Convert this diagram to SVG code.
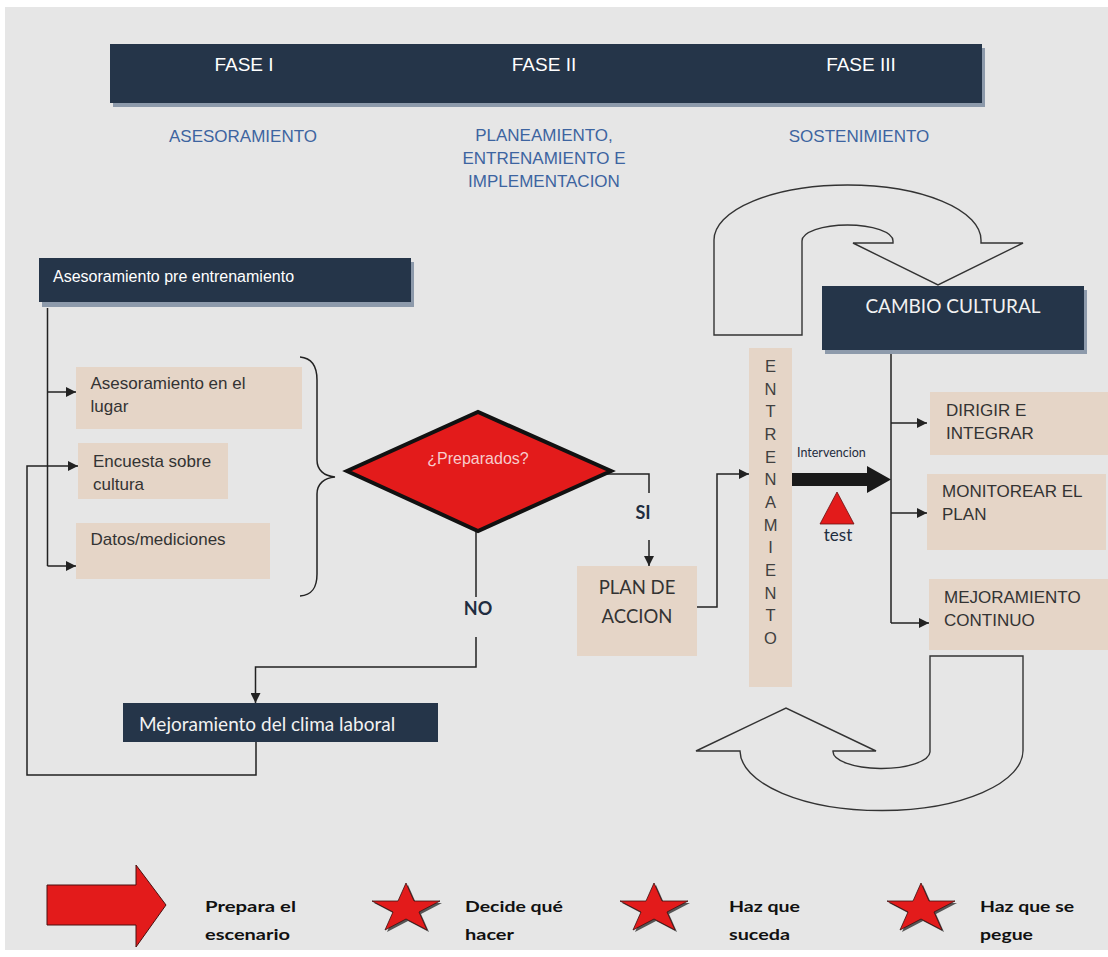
<svg xmlns="http://www.w3.org/2000/svg" width="1108" height="957" viewBox="0 0 1108 957">
  <defs>
    <style>
      .dark { fill: #253549; }
      .shadow { fill: #8d9aab; }
      .beige { fill: #e5d5c7; }
      .wire { fill: none; stroke: #222; stroke-width: 1.5; }
      .uturn { fill: none; stroke: #333; stroke-width: 1.4; stroke-linejoin: miter; }
      .phase { font-family: "Liberation Sans", Arial, sans-serif; font-size: 19px; fill: #ffffff; text-anchor: middle; }
      .sub { font-family: "Liberation Sans", Arial, sans-serif; font-size: 17px; fill: #3d64a0; text-anchor: middle; }
      .body { font-family: "Liberation Sans", Arial, sans-serif; font-size: 17px; fill: #333333; }
      .cal { font-family: Lato, "Open Sans", sans-serif; }
      .lbl { font-family: Lato, "Open Sans", sans-serif; font-weight: bold; font-size: 18px; fill: #1f2d40; text-anchor: middle; }
      .legend { font-family: Lato, "Open Sans", sans-serif; font-weight: bold; font-size: 16px; fill: #111; }
      .letters { font-family: "Liberation Sans", Arial, sans-serif; font-size: 16.5px; fill: #404040; text-anchor: middle; }
    </style>
    <marker id="ah" viewBox="0 0 10 10" refX="10" refY="5" markerWidth="11" markerHeight="10" orient="auto" markerUnits="userSpaceOnUse">
      <path d="M0,0 L10,5 L0,10 z" fill="#222"/>
    </marker>
    <polygon id="star" points="0,-26 8,-8 34,-8 13,3 21,21 0,10 -21,21 -13,3 -34,-8 -8,-8"/>
  </defs>

  <!-- page background -->
  <rect x="5" y="7" width="1103" height="943" fill="#e6e6e6"/>

  <!-- phase header band -->
  <g id="phase-band">
    <rect class="shadow" x="113" y="48" width="872" height="59"/>
    <rect class="dark" x="110" y="44" width="872" height="59"/>
    <text class="phase" x="244" y="71">FASE I</text>
    <text class="phase" x="544" y="71">FASE II</text>
    <text class="phase" x="861" y="71">FASE III</text>
  </g>

  <g id="phase-titles">
    <text class="sub" x="243" y="142">ASESORAMIENTO</text>
    <text class="sub" x="544" y="141">PLANEAMIENTO,</text>
    <text class="sub" x="544" y="164">ENTRENAMIENTO E</text>
    <text class="sub" x="544" y="187">IMPLEMENTACION</text>
    <text class="sub" x="859" y="142">SOSTENIMIENTO</text>
  </g>

  <!-- connectors -->
  <g id="connectors">
    <path class="wire" d="M47.5,308 V566"/>
    <path class="wire" d="M47.5,392 H76" marker-end="url(#ah)"/>
    <path class="wire" d="M47.5,566 H76" marker-end="url(#ah)"/>
    <path class="wire" d="M256,742 V775 H27 V466 H78" marker-end="url(#ah)"/>
    <path class="wire" d="M607,474 H649 V493"/>
    <path class="wire" d="M649,540 V566" marker-end="url(#ah)"/>
    <path class="wire" d="M476,531 V597"/>
    <path class="wire" d="M476,637 V667 H255.5 V703" marker-end="url(#ah)"/>
    <path class="wire" d="M697,607 H717 V474 H749" marker-end="url(#ah)"/>
    <path class="wire" d="M891,350 V623"/>
    <path class="wire" d="M891,423 H927" marker-end="url(#ah)"/>
    <path class="wire" d="M891,513 H927" marker-end="url(#ah)"/>
    <path class="wire" d="M891,623 H929" marker-end="url(#ah)"/>
    <!-- bracket gathering the three assessment items -->
    <path class="wire" d="M300,357 C312,358 317,366 317,380 L317,460 C317,470 324,476 335,477 C324,478 317,484 317,494 L317,574 C317,588 312,595 300,596"/>
    <!-- intervention block arrow -->
    <polygon points="791,473 867,473 867,466 891,479.5 867,493 867,486 791,486" fill="#1a1a1a"/>
  </g>

  <g id="pre-assessment">
    <rect class="shadow" x="42" y="262" width="372" height="45"/>
    <rect class="dark" x="39" y="258" width="372" height="44"/>
    <text x="53" y="282" font-family="Liberation Sans, Arial, sans-serif" font-size="16" fill="#ffffff">Asesoramiento pre entrenamiento</text>
  </g>

  <g id="onsite">
    <rect class="beige" x="76" y="367" width="226" height="62"/>
    <text class="body" x="90.5" y="389">Asesoramiento en el</text>
    <text class="body" x="90.5" y="412">lugar</text>
  </g>

  <g id="survey">
    <rect class="beige" x="78" y="443" width="150" height="56"/>
    <text class="body" x="93" y="467">Encuesta sobre</text>
    <text class="body" x="93" y="490">cultura</text>
  </g>

  <g id="data">
    <rect class="beige" x="76" y="523" width="194" height="56"/>
    <text class="body" x="90.5" y="545">Datos/mediciones</text>
  </g>

  <g id="ready">
    <polygon points="347,471 478,412 611,471 478,531" fill="#e31b1b" stroke="#111" stroke-width="4" stroke-linejoin="miter"/>
    <text x="478" y="464" text-anchor="middle" font-family="Liberation Sans, Arial, sans-serif" font-size="16" fill="#f7cccc">¿Preparados?</text>
  </g>

  <g id="yes-label"><text class="lbl" x="643" y="519">SI</text></g>
  <g id="no-label"><text class="lbl" x="478" y="615">NO</text></g>

  <g id="action-plan">
    <rect class="beige" x="577" y="566" width="120" height="90"/>
    <text class="cal" x="637" y="594" font-size="18.5" fill="#333" text-anchor="middle">PLAN DE</text>
    <text class="cal" x="637" y="623" font-size="18.5" fill="#333" text-anchor="middle">ACCION</text>
  </g>

  <g id="climate">
    <rect class="dark" x="123" y="703" width="315" height="39"/>
    <text class="cal" x="139" y="731" font-size="19" fill="#f2f2f2">Mejoramiento del clima laboral</text>
  </g>

  <g id="training">
    <rect class="beige" x="749" y="348" width="43" height="339"/>
    <text class="letters" x="770.5" y="372">E</text>
    <text class="letters" x="770.5" y="394.7">N</text>
    <text class="letters" x="770.5" y="417.3">T</text>
    <text class="letters" x="770.5" y="440">R</text>
    <text class="letters" x="770.5" y="462.7">E</text>
    <text class="letters" x="770.5" y="485.3">N</text>
    <text class="letters" x="770.5" y="508">A</text>
    <text class="letters" x="770.5" y="530.7">M</text>
    <text class="letters" x="770.5" y="553.3">I</text>
    <text class="letters" x="770.5" y="576">E</text>
    <text class="letters" x="770.5" y="598.7">N</text>
    <text class="letters" x="770.5" y="621.3">T</text>
    <text class="letters" x="770.5" y="644">O</text>
  </g>

  <g id="intervention-label">
    <text class="cal" x="797" y="457" font-size="12.5" fill="#1f2d40">Intervencion</text>
  </g>

  <g id="test">
    <polygon points="837,492 854,524 820,524" fill="#e31b1b" stroke="#6a1010" stroke-width="0.8"/>
    <text class="cal" x="838" y="541" font-size="17" fill="#1f2d40" text-anchor="middle">test</text>
  </g>

  <g id="culture-change">
    <rect class="shadow" x="825" y="290" width="262" height="64"/>
    <rect class="dark" x="822" y="286" width="262" height="64"/>
    <text class="cal" x="953" y="313" font-size="19" fill="#f2f2f2" text-anchor="middle">CAMBIO CULTURAL</text>
  </g>

  <g id="lead">
    <rect class="beige" x="930" y="392" width="178" height="63"/>
    <text class="body" x="946" y="416">DIRIGIR E</text>
    <text class="body" x="946" y="439">INTEGRAR</text>
  </g>

  <g id="monitor">
    <rect class="beige" x="927" y="474" width="179" height="76"/>
    <text class="body" x="942" y="497">MONITOREAR EL</text>
    <text class="body" x="942" y="520">PLAN</text>
  </g>

  <g id="improve">
    <rect class="beige" x="929" y="579" width="179" height="71"/>
    <text class="body" x="944" y="603">MEJORAMIENTO</text>
    <text class="body" x="944" y="626">CONTINUO</text>
  </g>

  <!-- recycling u-turn arrows around the sustain phase -->
  <g id="uturn-top">
    <path class="uturn" d="M714,335 V240 A133.5,55 0 0 1 981,240 V243 H1023 L938,285 L853,243 H893 V241 A45.5,16 0 0 0 802,241 V335 Z"/>
  </g>
  <g id="uturn-bottom">
    <path class="uturn" d="M930,656 H1023 V750 A141.5,60 0 0 1 740,751 H696 L786,708 L876,751 H833 A48.5,17 0 0 0 930,752 Z"/>
  </g>

  <!-- legend -->
  <g id="legend-setup">
    <polygon points="47,885 136,885 136,865 166,905 136,947 136,925 47,925" fill="#e31b1b" stroke="#4a1010" stroke-width="1"/>
    <text class="legend" x="205" y="912" textLength="91" lengthAdjust="spacingAndGlyphs">Prepara el</text>
    <text class="legend" x="205" y="940" textLength="85" lengthAdjust="spacingAndGlyphs">escenario</text>
  </g>
  <g id="legend-decide">
    <use href="#star" x="408" y="911" fill="#555"/>
    <use href="#star" x="406" y="909" fill="#e31b1b" stroke="#3a1010" stroke-width="0.8"/>
    <text class="legend" x="465" y="912" textLength="98" lengthAdjust="spacingAndGlyphs">Decide qué</text>
    <text class="legend" x="465" y="940" textLength="49" lengthAdjust="spacingAndGlyphs">hacer</text>
  </g>
  <g id="legend-happen">
    <use href="#star" x="656" y="911" fill="#555"/>
    <use href="#star" x="654" y="909" fill="#e31b1b" stroke="#3a1010" stroke-width="0.8"/>
    <text class="legend" x="729" y="912" textLength="71" lengthAdjust="spacingAndGlyphs">Haz que</text>
    <text class="legend" x="729" y="940" textLength="61" lengthAdjust="spacingAndGlyphs">suceda</text>
  </g>
  <g id="legend-stick">
    <use href="#star" x="923" y="911" fill="#555"/>
    <use href="#star" x="921" y="909" fill="#e31b1b" stroke="#3a1010" stroke-width="0.8"/>
    <text class="legend" x="980" y="912" textLength="94" lengthAdjust="spacingAndGlyphs">Haz que se</text>
    <text class="legend" x="980" y="940" textLength="53" lengthAdjust="spacingAndGlyphs">pegue</text>
  </g>
</svg>
